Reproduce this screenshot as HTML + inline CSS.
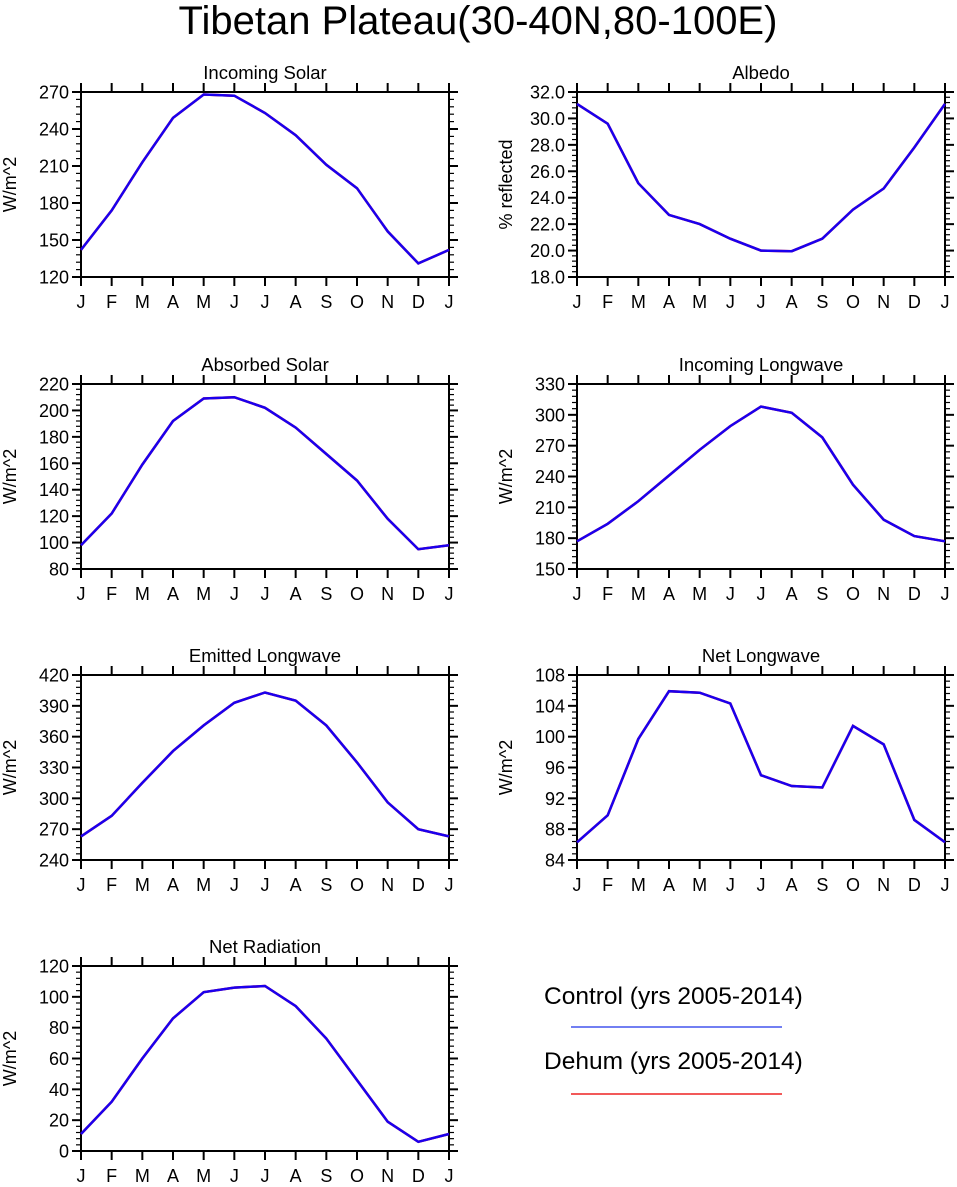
<!DOCTYPE html>
<html><head><meta charset="utf-8"><style>
body{margin:0;background:#fff;}
svg{display:block;font-family:"Liberation Sans",sans-serif;}
</style></head><body>
<svg id="c" width="957" height="1187">
<text x="478" y="34" font-size="40" text-anchor="middle">Tibetan Plateau(30-40N,80-100E)</text>
<g>
<text x="544" y="1004" font-size="24.5">Control (yrs 2005-2014)</text>
<line x1="571" y1="1027" x2="782" y2="1027" stroke="#4455ee" stroke-width="1.5"/>
<text x="544" y="1069" font-size="24.5">Dehum (yrs 2005-2014)</text>
<line x1="571" y1="1094" x2="782" y2="1094" stroke="#ee2222" stroke-width="1.5"/>
</g>
</svg>
<script>
const months = ["J","F","M","A","M","J","J","A","S","O","N","D","J"];
const titles = ["Incoming Solar","Albedo","Absorbed Solar","Incoming Longwave","Emitted Longwave","Net Longwave","Net Radiation"];
const yTitles = ["W/m^2","% reflected","W/m^2","W/m^2","W/m^2","W/m^2","W/m^2"];
const yMins = [120,18,80,150,240,84,0];
const yMaxs = [270,32,220,330,420,108,120];
const ySteps = [30,2,20,30,30,4,20];
const yDecimals = [0,1,0,0,0,0,0];
const incomingSolar = [142,174,213,249,268,267,253,235,211,192,157,131,142];
const albedo = [31.1,29.6,25.1,22.7,22.0,20.9,20.0,19.95,20.9,23.1,24.7,27.8,31.1];
const absorbedSolar = [98,122,159,192,209,210,202,187,167,147,118,95,98];
const incomingLW = [177,194,216,241,266,289,308,302,278,232,198,182,177];
const emittedLW = [263,283,315,346,371,393,403,395,371,335,296,270,263];
const netLW = [86.3,89.8,99.7,105.9,105.7,104.3,95.0,93.6,93.4,101.4,99.0,89.2,86.3];
const netRad = [11,32,60,86,103,106,107,94,73,46,19,6,11];
const series = [incomingSolar,albedo,absorbedSolar,incomingLW,emittedLW,netLW,netRad];

const svg = document.getElementById('c');
const NS = "http://www.w3.org/2000/svg";
function mk(tag, attrs, parent){const e=document.createElementNS(NS,tag);for(const k in attrs)e.setAttribute(k,attrs[k]);parent.appendChild(e);return e;}
const lefts=[81,577], tops=[92,384,675,966], W=368, H=185;
series.forEach((data,i)=>{
  const x0=lefts[i%2], y0=tops[Math.floor(i/2)];
  const g=mk('g',{},svg);
  
  
  const lo=yMins[i], hi=yMaxs[i];
  const xs=k=>x0+k*W/12;
  const ys=v=>y0+H-(v-lo)/(hi-lo)*H;
  const t=mk('text',{x:x0+W/2,y:y0-13,'font-size':18.5,'text-anchor':'middle'},g);t.textContent=titles[i];
  
  
  const yt=mk('text',{transform:`translate(${x0-65},${y0+H/2}) rotate(-90)`,'font-size':18,'text-anchor':'middle'},g);yt.textContent=yTitles[i];
  
  
  months.forEach((m,k)=>{
    const x=xs(k);
    mk('line',{x1:x,y1:y0-9,x2:x,y2:y0,stroke:'#000','stroke-width':2},g);
    mk('line',{x1:x,y1:y0+H,x2:x,y2:y0+H+9,stroke:'#000','stroke-width':2},g);
    const l=mk('text',{x:x,y:y0+H+31,'font-size':18,'text-anchor':'middle'},g);l.textContent=m;
    
    
  });
  const st=ySteps[i], minor=st/5;
  for(let v=lo; v<=hi+1e-9; v+=minor){
    const y=ys(v); const major=Math.abs(((v-lo)/st)-Math.round((v-lo)/st))<1e-6;
    const len=major?9:5;
    mk('line',{x1:x0-len,y1:y,x2:x0,y2:y,stroke:'#000','stroke-width':major?2:1.2},g);
    mk('line',{x1:x0+W,y1:y,x2:x0+W+len,y2:y,stroke:'#000','stroke-width':major?2:1.2},g);
    if(major){const l=mk('text',{x:x0-12,y:y+6.5,'font-size':18,'text-anchor':'end'},g);l.textContent=v.toFixed(yDecimals[i]);
      
      }
  }
  mk('rect',{x:x0,y:y0,width:W,height:H,fill:'none',stroke:'#000','stroke-width':2},g);
  const pts=data.map((v,k)=>xs(k).toFixed(1)+','+ys(v).toFixed(1)).join(' ');
  const r=mk('polyline',{points:pts,fill:'none',stroke:'#ff0000','stroke-width':2.5},g);
  
  
  const p=mk('polyline',{points:pts,fill:'none',stroke:'#1a00ee','stroke-width':2.5},g);
  
  
});
</script>
</body></html>
